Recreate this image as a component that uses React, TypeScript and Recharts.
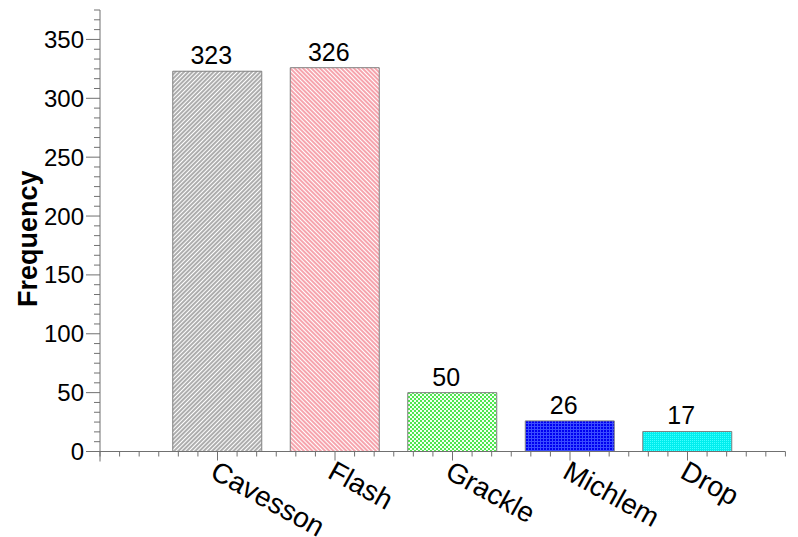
import React from 'react';
import { BarChart, Bar, XAxis, YAxis, Cell, LabelList, Label } from 'recharts';

const categories = ['Cavesson', 'Flash', 'Grackle', 'Michlem', 'Drop'];
const frequencies = [323, 326, 50, 26, 17];
const yMajorTicks = [0, 50, 100, 150, 200, 250, 300, 350];
const yMinorPerMajor = 6;
const yMax = 375;
const xMinorPerUnit = 6;
const xMax = 35 / 6;
const patternIds = ['patGray', 'patRed', 'patGreen', 'patBlue', 'patCyan'];

const FONT = '"Liberation Sans", Arial, sans-serif';
const AXIS = '#707070';

const data = categories.map((name, i) => ({ name, pos: i + 1, value: frequencies[i] }));

const yTicks: number[] = [];
for (let i = 0; i * (50 / yMinorPerMajor) <= yMax + 1e-9; i++) yTicks.push((i * 50) / yMinorPerMajor);
const xTicks: number[] = [];
for (let i = 0; i / xMinorPerUnit <= xMax + 1e-9; i++) xTicks.push(i / xMinorPerUnit);

const YTick = (props: any) => {
  const { x, y, payload } = props;
  const v = payload.value;
  const major = yMajorTicks.some((t) => Math.abs(t - v) < 1e-6);
  return (
    <g>
      <line x1={x - (major ? 14 : 6)} x2={x} y1={y} y2={y} stroke={AXIS} strokeWidth={1} />
      {major && (
        <text x={x - 16} y={y} textAnchor="end" dominantBaseline="central" fontSize={24} fontFamily={FONT} fill="#000">
          {Math.round(v)}
        </text>
      )}
      {Math.abs(v) < 1e-6 && <line x1={x} x2={x} y1={y} y2={y + 10} stroke={AXIS} strokeWidth={1} />}
    </g>
  );
};

const XTick = (props: any) => {
  const { x, y, payload } = props;
  const i = Math.round(payload.value * xMinorPerUnit);
  const major = i % xMinorPerUnit === 0;
  const idx = i / xMinorPerUnit - 1;
  const label = major && idx >= 0 && idx < categories.length ? categories[idx] : null;
  const ox = x + 1;
  const oy = y + 8;
  return (
    <g>
      <line x1={x} x2={x} y1={y} y2={y + (major && i > 0 ? 9 : 5)} stroke={AXIS} strokeWidth={1} />
      {label && (
        <text
          x={ox}
          y={oy}
          textAnchor="start"
          dominantBaseline="hanging"
          fontSize={28}
          fontFamily={FONT}
          fill="#000"
          transform={`rotate(29, ${ox}, ${oy})`}
        >
          {label}
        </text>
      )}
    </g>
  );
};

const FreqLabel = (props: any) => {
  const vb = props.viewBox || { x: 0, y: 0, width: 0, height: 0 };
  const cx = vb.x + 28;
  const cy = vb.y + vb.height / 2 + 8;
  return (
    <text
      x={cx}
      y={cy}
      textAnchor="middle"
      dominantBaseline="central"
      fontSize={27}
      fontWeight="bold"
      fontFamily={FONT}
      fill="#000"
      transform={`rotate(-90, ${cx}, ${cy})`}
    >
      Frequency
    </text>
  );
};

const ValueLabel = (props: any) => {
  const { x, y, width, value } = props;
  return (
    <text x={x + width / 2 - 6} y={y - 7} textAnchor="middle" fontSize={25} fontFamily={FONT} fill="#000">
      {value}
    </text>
  );
};

export default function App() {
  return (
    <div style={{ position: 'absolute', left: 0, top: 0 }}>
      <BarChart
        width={798}
        height={537}
        data={data}
        margin={{ top: 10, right: 12.58, left: 0, bottom: 0 }}
        barSize={89}
      >
        <defs>
          <pattern id="patGray" width="3" height="3" patternUnits="userSpaceOnUse" patternTransform="rotate(45)">
            <rect width="3" height="3" fill="#ffffff" />
            <line x1="1" y1="0" x2="1" y2="3" stroke="#6a6a6a" strokeWidth="1.1" />
          </pattern>
          <pattern id="patRed" width="3" height="3" patternUnits="userSpaceOnUse" patternTransform="rotate(-45)">
            <rect width="3" height="3" fill="#ffffff" />
            <line x1="1" y1="0" x2="1" y2="3" stroke="#f05a6a" strokeWidth="1.1" />
          </pattern>
          <pattern id="patGreen" width="4" height="4" patternUnits="userSpaceOnUse">
            <rect width="4" height="4" fill="#f4fff4" />
            <rect x="0" y="0" width="2" height="2" fill="#4fe64f" />
            <rect x="2" y="2" width="2" height="2" fill="#4fe64f" />
          </pattern>
          <pattern id="patBlue" width="3" height="3" patternUnits="userSpaceOnUse">
            <rect width="3" height="3" fill="#0000f0" />
            <rect x="0" y="0" width="1" height="3" fill="#3a4cff" />
            <rect x="0" y="0" width="3" height="1" fill="#3a4cff" />
          </pattern>
          <pattern id="patCyan" width="2" height="2" patternUnits="userSpaceOnUse">
            <rect width="2" height="2" fill="#00eeee" />
            <rect x="0" y="0" width="1" height="1" fill="#40ffff" />
          </pattern>
        </defs>
        <XAxis
          xAxisId="num"
          dataKey="pos"
          type="number"
          domain={[0, xMax]}
          ticks={xTicks}
          interval={0}
          allowDataOverflow
          tick={(p: any) => <XTick {...p} />}
          tickLine={false}
          tickSize={0}
          tickMargin={0}
          height={85.5}
          stroke={AXIS}
        />
        <XAxis
          xAxisId="cat"
          dataKey="name"
          type="category"
          hide
          height={0}
          padding={{ left: 58.75, right: 39.17 }}
        />
        <YAxis
          type="number"
          domain={[0, yMax]}
          ticks={yTicks}
          interval={0}
          allowDataOverflow
          tick={(p: any) => <YTick {...p} />}
          tickLine={false}
          tickSize={0}
          tickMargin={0}
          width={100}
          stroke={AXIS}
        >
          <Label content={(p: any) => <FreqLabel {...p} />} />
        </YAxis>
        <Bar dataKey="value" xAxisId="cat" isAnimationActive={false} stroke="#808080" strokeWidth={1}>
          {data.map((d, i) => (
            <Cell key={d.name} fill={`url(#${patternIds[i]})`} />
          ))}
          <LabelList dataKey="value" content={(p: any) => <ValueLabel {...p} />} />
        </Bar>
      </BarChart>
    </div>
  );
}
